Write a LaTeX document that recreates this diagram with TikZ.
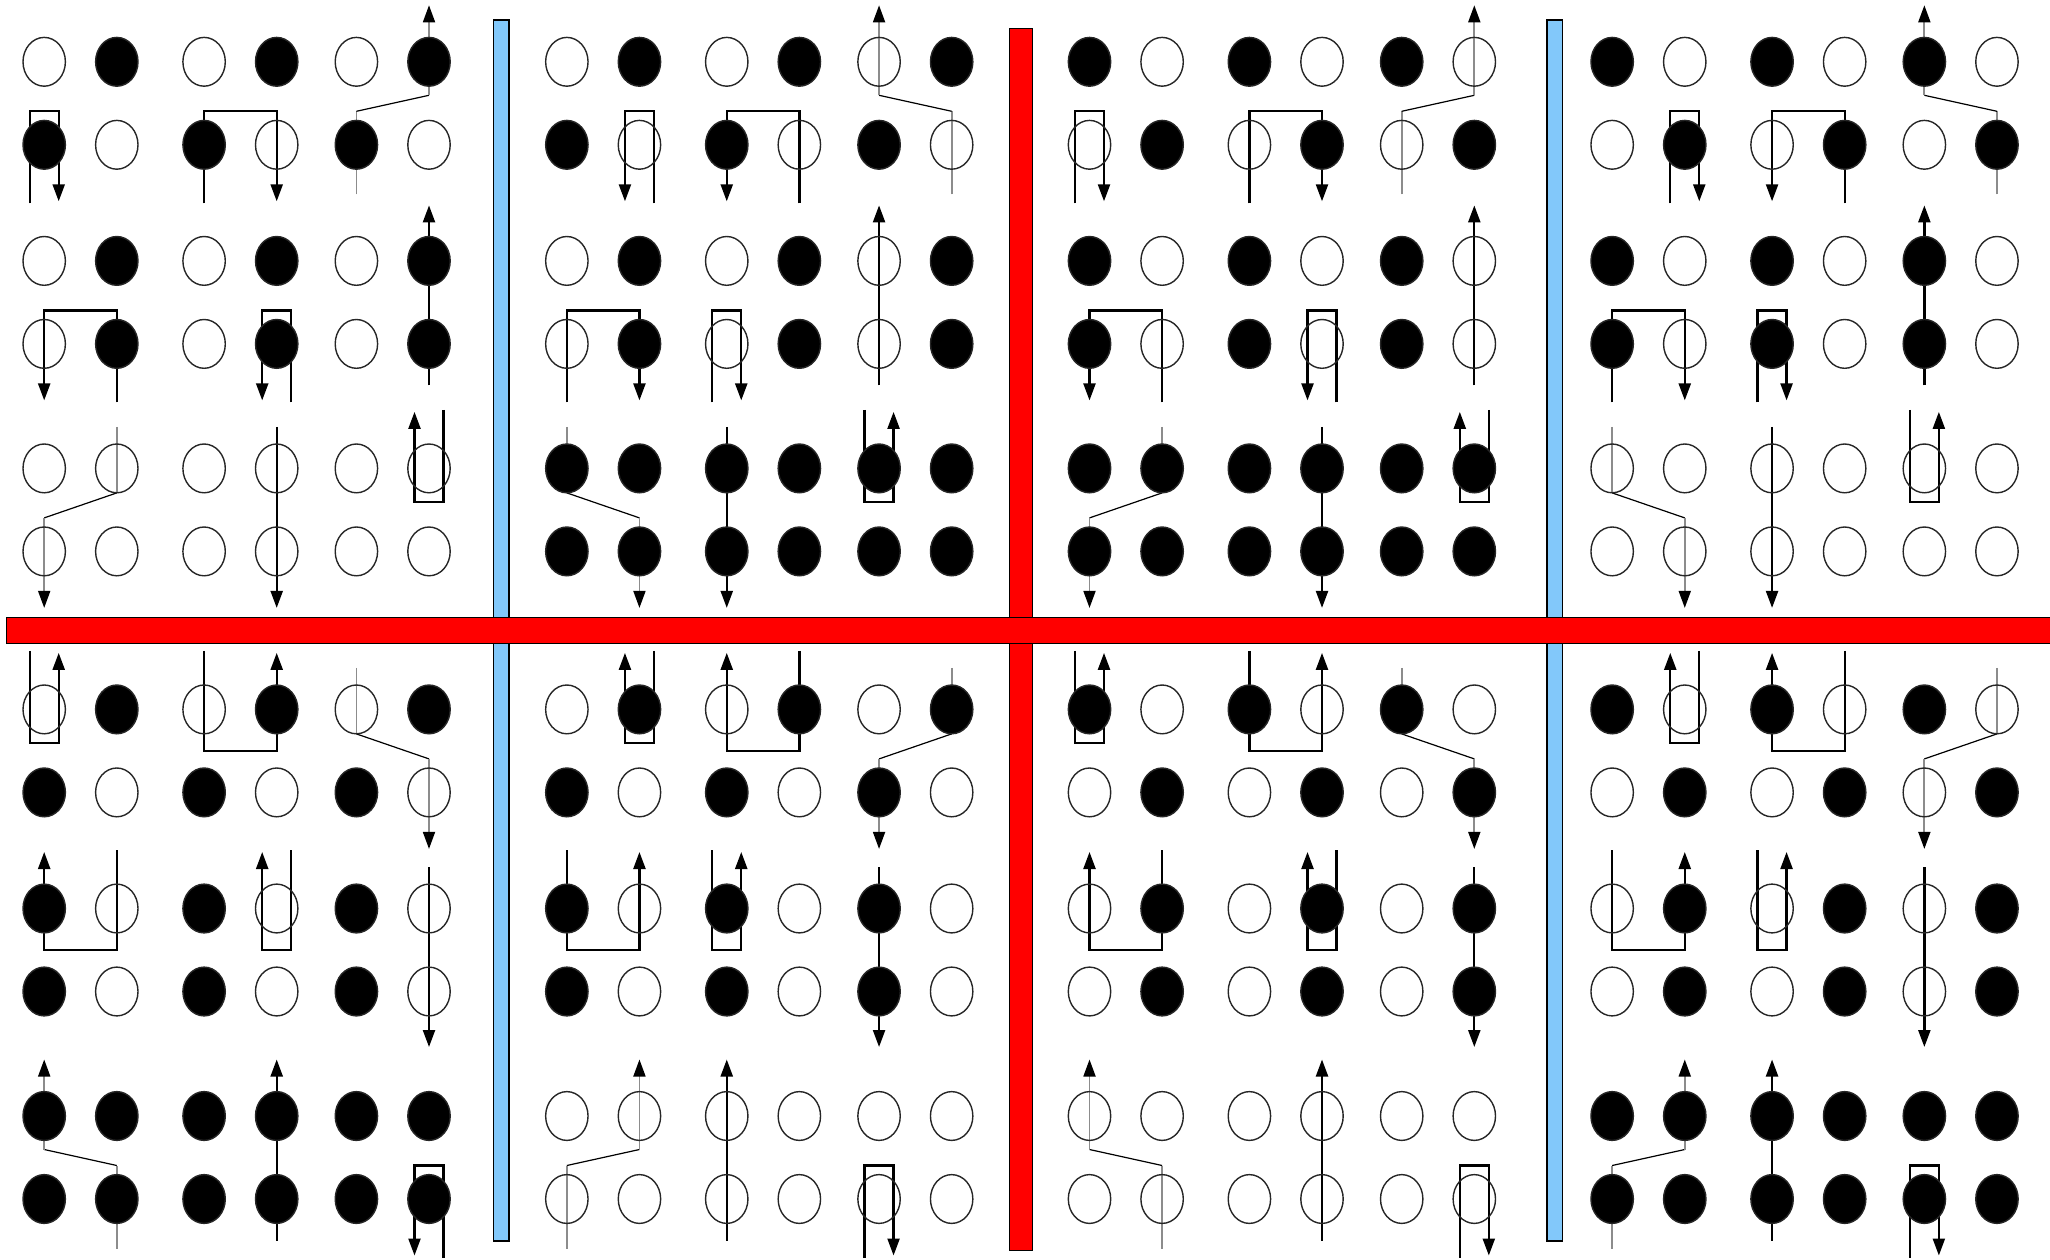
\documentclass[tikz,border=0pt]{standalone}
\usetikzlibrary{arrows.meta}
\definecolor{barblue}{RGB}{130,200,250}
\tikzset{
  bar/.style={draw=black, line width=1.5pt},
  leg/.style={line width=2.3pt},
  shaft/.style={draw=black!45, line width=1.8pt},
  kink/.style={line width=1.2pt},
  tip/.style={-{Triangle[length=17pt,width=12pt,color=black]}},
  dot/.style={draw=black!85, line width=1.4pt},
}
% one 2x2 cell in its own frame: mirrored by \mx, flipped by \my
\newcommand\spincell[3]{\begin{scope}[shift={(\px+#1,\py+#2)},xscale=\mx,yscale=\my]#3\end{scope}}

\begin{document}
\begin{tikzpicture}[x=1pt,y=-1pt]
\useasboundingbox (0,0) rectangle (2050,1260);
% separators (the long red one lies on top)
\foreach \bx in {493.5,1547} \draw[bar,fill=barblue] (\bx,20) rectangle +(15.5,1221);
\draw[bar,fill=red] (1009.5,28.7) rectangle (1032.5,1250.7);
\draw[bar,fill=red] (6.7,617.5) rectangle (2060,643.3);
% panels: offset, cell mirror/flip, row phases, bottom pair filled, swapped hairpin arrows
\foreach \px/\py/\mx/\my/\rowA/\rowB/\full/\swA/\swC in {
    0/0/1/1/0/0/0/1/1, 522.65/0/-1/1/0/0/1/1/1, 1045.3/0/1/1/1/1/1/1/1, 1567.95/0/-1/1/1/1/0/-1/1,
    0/647.6/1/-1/0/1/1/1/1, 522.65/647.6/-1/-1/0/1/0/1/1, 1045.3/647.6/1/-1/1/0/0/1/-1, 1567.95/647.6/-1/-1/1/0/1/1/1} {
  % first pair of rows
  \spincell{80.5}{103.3}{\draw[leg,tip] ({-36.3-14.5*\swA},100) -- ({-36.3-14.5*\swA},8) -- ({-36.3+14.5*\swA},8) -- ({-36.3+14.5*\swA},98);}
  \spincell{240.4}{103.3}{\draw[leg,tip] (-36.3,100) -- (-36.3,{4+4*\my}) -- (36.3,{4+4*\my}) -- (36.3,98);}
  \spincell{392.7}{103.3}{\draw[shaft] (-36.3,{87+4*\my}) -- (-36.3,{12.5-4.5*\my});
    \draw[kink] (-36.3,{12.5-4.5*\my}) -- (36.3,-8);
    \draw[shaft,tip] (36.3,-8) -- (36.3,-98);}
  % second pair
  \spincell{80.5}{302.4}{\draw[leg,tip] (36.3,100) -- (36.3,{4+4*\my}) -- (-36.3,{4+4*\my}) -- (-36.3,98);}
  \spincell{240.4}{302.4}{\draw[leg,tip] (50.8,100) -- (50.8,{4+4*\my}) -- (21.8,{4+4*\my}) -- (21.8,98);}
  \spincell{392.7}{302.4}{\draw[leg,tip] (36.3,83) -- (36.3,-97);}
  % third pair
  \spincell{80.5}{509.9}{\draw[shaft] (36.3,{-87+4*\my}) -- (36.3,{-12.5-4.5*\my});
    \draw[kink] (36.3,{-12.5-4.5*\my}) -- (-36.3,8);
    \draw[shaft,tip] (-36.3,8) -- (-36.3,98);}
  \spincell{240.4}{509.9}{\draw[leg,tip] (36.3,-83) -- (36.3,98);}
  \spincell{392.7}{509.9}{\draw[leg,tip] ({36.3+14.5*\swC},-100) -- ({36.3+14.5*\swC},-8) -- ({36.3-14.5*\swC},-8) -- ({36.3-14.5*\swC},-98);}
  % dots last, so the filled ones hide the grey shafts
  \foreach \ry/\ka/\kb in {61.8/1/\rowA, 144.8/1/\rowA+1, 260.9/1/\rowB, 343.9/1/\rowB, 468.4/0/\full, 551.4/0/\full}
    \foreach \cj/\cx in {0/44.2, 1/116.8, 2/204.1, 3/276.7, 4/356.4, 5/429.0} {
      \pgfmathtruncatemacro\isfull{mod(\cj*\ka+\kb,2)}
      \ifnum\isfull=1 \def\dotcol{black}\else\def\dotcol{none}\fi
      \draw[dot,fill=\dotcol] (\px+\cx,\py+\ry) ellipse [x radius=21.2, y radius=24.4];
    }
}
\end{tikzpicture}
\end{document}
